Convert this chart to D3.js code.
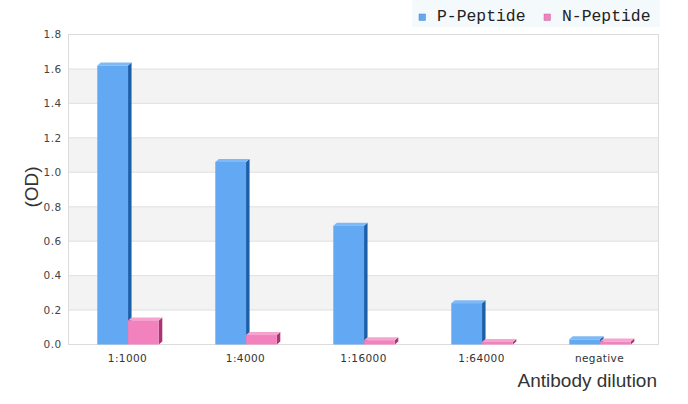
<!DOCTYPE html>
<html><head><meta charset="utf-8">
<script src="https://cdn.jsdelivr.net/npm/d3@7"></script>
<style>html,body{margin:0;padding:0;background:#fff;}svg{display:block;}</style>
</head><body>
<svg id="c" width="688" height="404"></svg>
<script>
const categories = ["1:1000", "1:4000", "1:16000", "1:64000", "negative"];
const seriesNames = ["P-Peptide", "N-Peptide"];
const pValues = [1.62, 1.06, 0.69, 0.24, 0.03];
const nValues = [0.14, 0.055, 0.025, 0.015, 0.017];
const yTicks = [0, 0.2, 0.4, 0.6, 0.8, 1.0, 1.2, 1.4, 1.6, 1.8];
const colors = [
  {front: "#62a8f2", side: "#1b5fa9", top: "#80baf6"},
  {front: "#f282bd", side: "#a8366f", top: "#f7a3cf"}
];

const svg = d3.select("#c");
const m = {l: 68.5, r: 658.5, t: 34.5, b: 344.5};
const x = d3.scaleBand().domain(categories).range([m.l, m.r]);
const y = d3.scaleLinear().domain([0, 1.8]).range([m.b, m.t]);
const dx = 3.5, dy = 3;

// bands
const g = svg.append("g");
for (let i = 0; i < yTicks.length - 1; i++) {
  if (i % 2 === 1) {
    g.append("rect").attr("x", m.l).attr("width", m.r - m.l)
      .attr("y", y(yTicks[i + 1])).attr("height", y(yTicks[i]) - y(yTicks[i + 1]))
      .attr("fill", "#f3f3f3");
  }
}
// grid
g.selectAll("line.grid").data(yTicks).join("line")
  .attr("x1", m.l).attr("x2", m.r).attr("y1", d => y(d)).attr("y2", d => y(d))
  .attr("stroke", "#e0e0e0").attr("stroke-width", 1);
// border
g.append("rect").attr("x", m.l).attr("y", m.t).attr("width", m.r - m.l).attr("height", m.b - m.t)
  .attr("fill", "none").attr("stroke", "#dcdcdc");

// y axis labels
const yAxis = d3.axisLeft(y).tickValues(yTicks).tickFormat(d3.format(".1f")).tickSize(0).tickPadding(7);
const ya = svg.append("g").attr("transform", `translate(${m.l},0)`).call(yAxis);
ya.select(".domain").remove();
ya.selectAll("text").attr("font-family", "DejaVu Sans").attr("font-size", 10.5).attr("fill", "#444")
  .attr("letter-spacing", 0.4);

// x axis labels
const xAxis = d3.axisBottom(x).tickSize(0).tickPadding(10);
const xa = svg.append("g").attr("transform", `translate(0,${m.b})`).call(xAxis);
xa.select(".domain").remove();
xa.selectAll("text").attr("font-family", "DejaVu Sans").attr("font-size", 10.5).attr("fill", "#333")
  .attr("letter-spacing", 0.4);

// bars
const inner = d3.scaleBand().domain(seriesNames).range([0, 61.5]);
const data = [];
categories.forEach((c, i) => {
  data.push({c, s: 0, v: pValues[i]});
  data.push({c, s: 1, v: nValues[i]});
});
const bars = svg.append("g");
data.forEach(d => {
  const x0 = x(d.c) + x.bandwidth() / 2 - 30.2 + inner(seriesNames[d.s]);
  const w = inner.bandwidth();
  const yt = y(d.v), yb = y(0);
  const col = colors[d.s];
  const bg = bars.append("g");
  bg.append("path").attr("d", `M${x0 + w},${yt} L${x0 + w + dx},${yt - dy} L${x0 + w + dx},${yb - dy} L${x0 + w},${yb} Z`).attr("fill", col.side);
  bg.append("path").attr("d", `M${x0},${yt} L${x0 + dx},${yt - dy} L${x0 + w + dx},${yt - dy} L${x0 + w},${yt} Z`).attr("fill", col.top);
  bg.append("rect").attr("x", x0).attr("y", yt).attr("width", w).attr("height", yb - yt).attr("fill", col.front);
});

// axis titles
svg.append("text").attr("x", 657).attr("y", 387).attr("text-anchor", "end")
  .attr("font-family", "Liberation Sans").attr("font-size", 19).attr("fill", "#333").text("Antibody dilution");
svg.append("text").attr("transform", "translate(38,187) rotate(-90)").attr("text-anchor", "middle")
  .attr("font-family", "Liberation Sans").attr("font-size", 19).attr("fill", "#333").text("(OD)");

// legend
const lg = svg.append("g");
lg.append("rect").attr("x", 412).attr("y", 0).attr("width", 248).attr("height", 27).attr("fill", "#f4f9fb");
const legX = [419, 544];
seriesNames.forEach((s, i) => {
  lg.append("rect").attr("x", legX[i]).attr("y", 14).attr("width", 6.5).attr("height", 6.5)
    .attr("fill", colors[i].front).attr("stroke", d3.color(colors[i].front).darker(0.6)).attr("stroke-width", 0.5);
  lg.append("text").attr("x", legX[i] + 18).attr("y", 21).attr("font-family", "'Courier New', 'Liberation Mono', monospace")
    .attr("font-size", 16.4).attr("fill", "#222").text(s);
});
</script>
</body></html>
